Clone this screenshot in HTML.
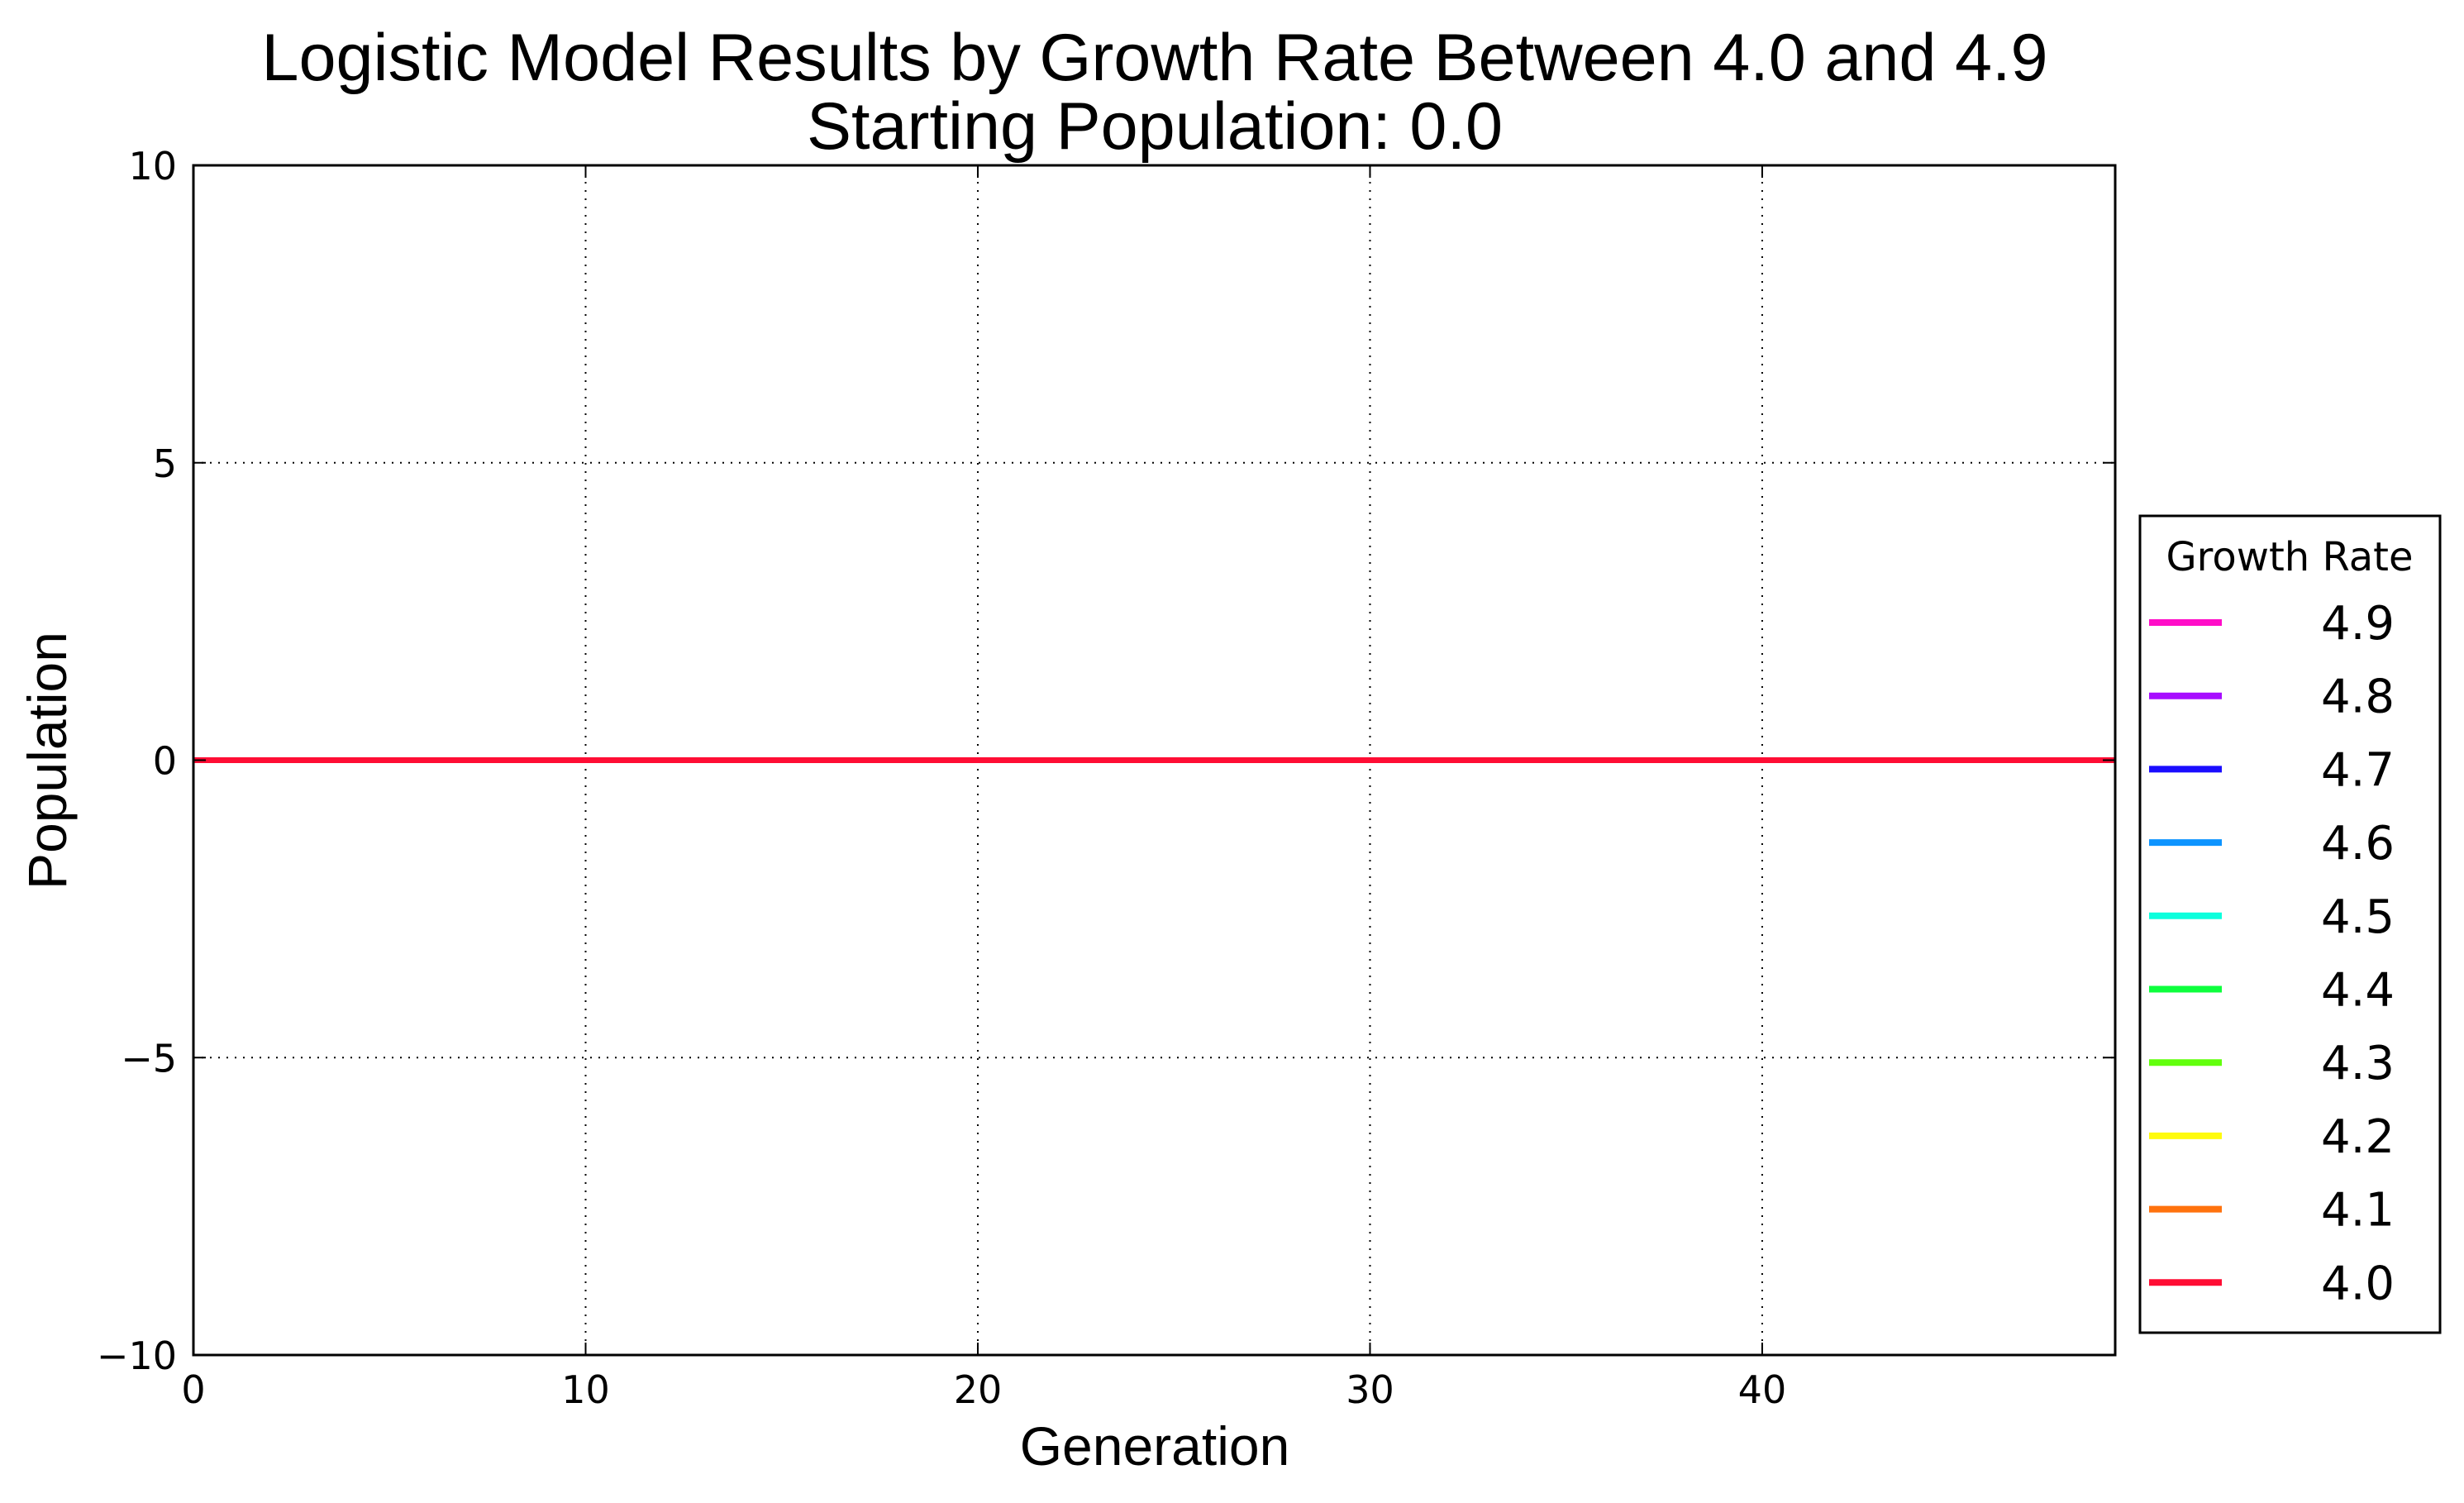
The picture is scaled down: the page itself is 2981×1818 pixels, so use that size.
<!DOCTYPE html>
<html><head><meta charset="utf-8"><style>
html,body{margin:0;padding:0;background:#fff;}
svg{display:block;font-family:"Liberation Sans",sans-serif;}
.dj{font-family:"DejaVu Sans",sans-serif;}
</style></head><body>
<svg id="chart" width="2981" height="1818" viewBox="0 0 2981 1818">
<rect width="2981" height="1818" fill="#fff"/>
<text x="1397" y="97" font-size="81" text-anchor="middle">Logistic Model Results by Growth Rate Between 4.0 and 4.9</text>
<text x="1397" y="180" font-size="81" text-anchor="middle">Starting Population: 0.0</text>
<g id="grid"></g>
<g id="series"></g>
<rect x="234" y="200" width="2325" height="1439" fill="none" stroke="#000" stroke-width="3"/>
<g id="ticks"></g>
<text x="1397" y="1772" font-size="66" text-anchor="middle">Generation</text>
<text x="0" y="0" font-size="66" text-anchor="middle" transform="translate(80,920) rotate(-90)">Population</text>
<g id="legend">
<rect x="2589" y="624" width="363" height="988" fill="#fff" stroke="#000" stroke-width="3"/>
<text x="2770" y="690" class="dj" font-size="48" text-anchor="middle">Growth Rate</text>
</g>
</svg>
<script>
const rates = ["4.9","4.8","4.7","4.6","4.5","4.4","4.3","4.2","4.1","4.0"];
const colors = ["#ff0dc8","#a70dff","#1a0dff","#0d94ff","#0dffdd","#0dff3d","#62ff0d","#fffb0d","#ff720d","#ff0d34"];
const generations = [0,1,2,3,4,5,6,7,8,9,10,11,12,13,14,15,16,17,18,19,20,21,22,23,24,25,26,27,28,29,30,31,32,33,34,35,36,37,38,39,40,41,42,43,44,45,46,47,48,49];
const pop49 = [0,0,0,0,0,0,0,0,0,0,0,0,0,0,0,0,0,0,0,0,0,0,0,0,0,0,0,0,0,0,0,0,0,0,0,0,0,0,0,0,0,0,0,0,0,0,0,0,0,0];
const pop48 = [0,0,0,0,0,0,0,0,0,0,0,0,0,0,0,0,0,0,0,0,0,0,0,0,0,0,0,0,0,0,0,0,0,0,0,0,0,0,0,0,0,0,0,0,0,0,0,0,0,0];
const pop47 = [0,0,0,0,0,0,0,0,0,0,0,0,0,0,0,0,0,0,0,0,0,0,0,0,0,0,0,0,0,0,0,0,0,0,0,0,0,0,0,0,0,0,0,0,0,0,0,0,0,0];
const pop46 = [0,0,0,0,0,0,0,0,0,0,0,0,0,0,0,0,0,0,0,0,0,0,0,0,0,0,0,0,0,0,0,0,0,0,0,0,0,0,0,0,0,0,0,0,0,0,0,0,0,0];
const pop45 = [0,0,0,0,0,0,0,0,0,0,0,0,0,0,0,0,0,0,0,0,0,0,0,0,0,0,0,0,0,0,0,0,0,0,0,0,0,0,0,0,0,0,0,0,0,0,0,0,0,0];
const pop44 = [0,0,0,0,0,0,0,0,0,0,0,0,0,0,0,0,0,0,0,0,0,0,0,0,0,0,0,0,0,0,0,0,0,0,0,0,0,0,0,0,0,0,0,0,0,0,0,0,0,0];
const pop43 = [0,0,0,0,0,0,0,0,0,0,0,0,0,0,0,0,0,0,0,0,0,0,0,0,0,0,0,0,0,0,0,0,0,0,0,0,0,0,0,0,0,0,0,0,0,0,0,0,0,0];
const pop42 = [0,0,0,0,0,0,0,0,0,0,0,0,0,0,0,0,0,0,0,0,0,0,0,0,0,0,0,0,0,0,0,0,0,0,0,0,0,0,0,0,0,0,0,0,0,0,0,0,0,0];
const pop41 = [0,0,0,0,0,0,0,0,0,0,0,0,0,0,0,0,0,0,0,0,0,0,0,0,0,0,0,0,0,0,0,0,0,0,0,0,0,0,0,0,0,0,0,0,0,0,0,0,0,0];
const pop40 = [0,0,0,0,0,0,0,0,0,0,0,0,0,0,0,0,0,0,0,0,0,0,0,0,0,0,0,0,0,0,0,0,0,0,0,0,0,0,0,0,0,0,0,0,0,0,0,0,0,0];
const seriesValues = [pop49,pop48,pop47,pop46,pop45,pop44,pop43,pop42,pop41,pop40];
const xTicks = [0,10,20,30,40];
const yTicks = [-10,-5,0,5,10];
const yTickLabels = ["\u221210","\u22125","0","5","10"];
const X0=234,X1=2559,Y0=200,Y1=1639,XMIN=0,XMAX=49,YMIN=-10,YMAX=10;
const NS="http://www.w3.org/2000/svg";
function xs(v){return X0+(v-XMIN)/(XMAX-XMIN)*(X1-X0);}
function ys(v){return Y1-(v-YMIN)/(YMAX-YMIN)*(Y1-Y0);}
function mk(tag,attrs,parent){const e=document.createElementNS(NS,tag);for(const k in attrs)e.setAttribute(k,attrs[k]);parent.appendChild(e);return e;}
const grid=document.getElementById('grid'),ticks=document.getElementById('ticks'),ser=document.getElementById('series'),leg=document.getElementById('legend');
xTicks.forEach(t=>{
  const x=xs(t);
  if(t>XMIN){const g=mk('line',{x1:x,x2:x,y1:Y0,y2:Y1,stroke:'#000','stroke-width':2,'stroke-dasharray':'2,8'},grid);
  
  }
  const tk=mk('line',{x1:x,x2:x,y1:Y1,y2:Y1-15,stroke:'#000','stroke-width':2},ticks);
  
  
  const tk2=mk('line',{x1:x,x2:x,y1:Y0,y2:Y0+15,stroke:'#000','stroke-width':2},ticks);
  
  
  const lb=mk('text',{x:x,y:Y1+58,'font-size':46,'text-anchor':'middle','class':'dj'},ticks);
  lb.textContent=String(t);
  
  
});
yTicks.forEach((t,i)=>{
  const y=ys(t);
  if(t>YMIN&&t<YMAX){const g=mk('line',{x1:X0,x2:X1,y1:y,y2:y,stroke:'#000','stroke-width':2,'stroke-dasharray':'2,8'},grid);
  
  }
  const tk=mk('line',{x1:X0,x2:X0+15,y1:y,y2:y,stroke:'#000','stroke-width':2},ticks);
  
  
  const tk2=mk('line',{x1:X1,x2:X1-15,y1:y,y2:y,stroke:'#000','stroke-width':2},ticks);
  
  
  const lb=mk('text',{x:X0-20,y:y+17,'font-size':46,'text-anchor':'end','class':'dj'},ticks);
  lb.textContent=yTickLabels[i];
  
  
});
seriesValues.forEach((vals,i)=>{
  const pts=vals.map((v,j)=>xs(generations[j]).toFixed(1)+','+ys(v).toFixed(1)).join(' ');
  const p=mk('polyline',{points:pts,fill:'none',stroke:colors[i],'stroke-width':7},ser);
  
  
});
rates.forEach((r,i)=>{
  const y=753+i*88.7;
  const l=mk('line',{x1:2600,x2:2688,y1:y,y2:y,stroke:colors[i],'stroke-width':8},leg);
  
  
  const t=mk('text',{x:2808,y:y+20,'font-size':56,'class':'dj'},leg);
  t.textContent=r;
  
  
});
</script>
</body></html>
